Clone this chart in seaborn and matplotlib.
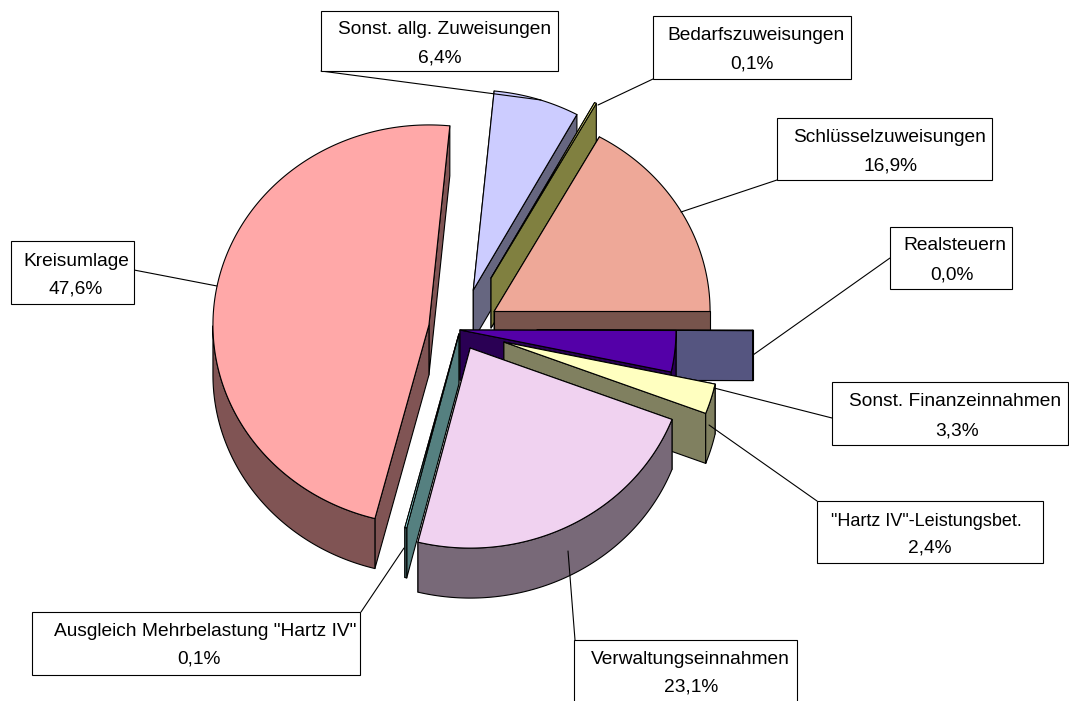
import numpy as np
import matplotlib
matplotlib.use("Agg")
import matplotlib.pyplot as plt
from matplotlib.patches import Rectangle
import seaborn as sns

# slices, clockwise from 3 o'clock
labels = ["Realsteuern", "Sonst. Finanzeinnahmen", "\"Hartz IV\"-Leistungsbet.",
          "Verwaltungseinnahmen", "Ausgleich Mehrbelastung \"Hartz IV\"", "Kreisumlage",
          "Sonst. allg. Zuweisungen", "Bedarfszuweisungen", "Schlüsselzuweisungen"]
values = [0.04, 3.34, 2.44, 23.14, 0.14, 47.64, 6.44, 0.14, 16.94]
explode = [0.356, 0.0, 0.212, 0.102, 0.02, 0.146, 0.209, 0.297, 0.183]
top_colors = ["#AAAAFF", "#5400A8", "#FFFFC0", "#F0D2F0", "#AAFFFF", "#FFA8A8",
              "#CCCCFF", "#FFFF80", "#EEA898"]

# label boxes in image pixels: left, top, right, bottom
boxes = [(890, 227, 1012, 289), (832, 382, 1068, 445), (817, 501, 1043, 563),
         (574, 640, 797, 702), (32, 612, 360, 675), (11, 241, 134, 304),
         (321, 11, 558, 71), (653, 16, 851, 79), (777, 118, 992, 180)]
name_pos = [(955, 246), (955, 402), (926, 521), (690, 659), (205, 632), (76, 261),
            (445, 30), (756, 36), (890, 137)]
pct_pos = [(952, 275), (957, 431), (930, 548), (691, 687), (199, 659), (76, 289),
           (440, 58), (752, 64), (891, 166)]
name_size = [13.8, 13.8, 13.0, 13.8, 13.8, 13.8, 13.8, 13.8, 13.8]
leaders = [((890, 258), (753, 355)), ((832, 418), (714, 388)), ((817, 501), (709, 425)),
           ((575, 640), (568, 551)), ((361, 612), (404, 548)), ((134, 270), (217, 286)),
           ((321, 71), (541, 100)), ((653, 79), (598, 105)), ((777, 180), (681, 212))]

# pie geometry in pixels
W, H = 1069, 701
CX, CY = 460, 330
RX, RY = 216, 200
DEPTH = 0.25  # in units of the pie radius

draw_order = [6, 7, 8, 5, 0, 1, 4, 2, 3]

sns.set_theme(style="white")
plt.rcParams["font.family"] = ["Liberation Sans", "DejaVu Sans"]
palette = sns.color_palette(top_colors)


def px(x, y):
    return (x - CX) / RX, (CY - y) / RY


fig = plt.figure(figsize=(W / 100, H / 100), dpi=100)
ax = fig.add_axes([0, 0, 1, 1])
ax.set_xlim(-CX / RX, (W - CX) / RX)
ax.set_ylim((CY - H) / RY, CY / RY)
ax.axis("off")

total = sum(values)
ends = np.cumsum(values) / total * 360
starts = np.r_[0, ends[:-1]]

for i in draw_order:
    top = palette[i]
    side = tuple(c * 0.5 for c in top)
    mid = np.radians(-(starts[i] + ends[i]) / 2)
    ox, oy = explode[i] * np.cos(mid), explode[i] * np.sin(mid)
    t1, t2 = np.radians(-ends[i]), np.radians(-starts[i])
    t = np.linspace(t1, t2, max(int(np.degrees(t2 - t1)) * 2, 2))
    arc_x, arc_y = ox + np.cos(t), oy + np.sin(t)

    # cut faces, the one further back first
    for a in sorted((t1, t2), key=lambda v: -np.sin(v)):
        ex, ey = ox + np.cos(a), oy + np.sin(a)
        ax.fill([ox, ex, ex, ox], [oy, ey, ey - DEPTH, oy - DEPTH],
                facecolor=side, edgecolor="black", lw=0.8, joinstyle="round")
    # outer wall, front half only
    front = np.sin(t) <= 0
    if front.sum() > 1:
        ax.fill(np.r_[arc_x[front], arc_x[front][::-1]],
                np.r_[arc_y[front], arc_y[front][::-1] - DEPTH],
                facecolor=side, edgecolor="black", lw=0.8, joinstyle="round")
    # top
    ax.fill(np.r_[ox, arc_x], np.r_[oy, arc_y], facecolor=top, edgecolor="black",
            lw=0.8, joinstyle="round")

for i in range(len(labels)):
    (x0, y0), (x1, y1) = map(lambda p: px(*p), leaders[i])
    ax.plot([x0, x1], [y0, y1], color="black", lw=0.8, zorder=5)
    l, t, r, b = boxes[i]
    xl, yb = px(l, b)
    xr, yt = px(r, t)
    ax.add_patch(Rectangle((xl, yb), xr - xl, yt - yb, facecolor="white",
                           edgecolor="black", lw=0.8, zorder=6, clip_on=False))
    nx, ny = px(*name_pos[i])
    ax.text(nx, ny, labels[i], ha="center", va="center", fontsize=name_size[i],
            color="black", zorder=7)
    qx, qy = px(*pct_pos[i])
    pct = f"{values[i]:.1f}".replace(".", ",") + "%"
    ax.text(qx, qy, pct, ha="center", va="center", fontsize=13.8, color="black", zorder=7)

fig.savefig("out.png", dpi=100, facecolor="white")
